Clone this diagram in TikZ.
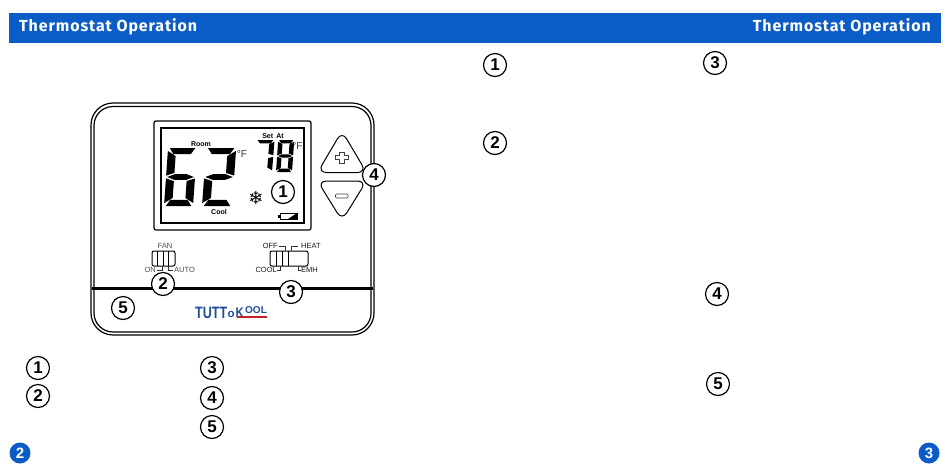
\documentclass[tikz,border=0pt]{standalone}
\usepackage{fontspec}
\usepackage{xcolor}
\setmainfont{Liberation Sans}
\newfontfamily\headfont[LetterSpace=5.6]{Fira Sans}
\newfontfamily\symbfont{DejaVu Sans}
\definecolor{barblue}{HTML}{0B5CC6}
\definecolor{logoblue}{HTML}{1C4E9C}
\definecolor{logored}{HTML}{C4202C}
\usetikzlibrary{positioning}

% segments of one display digit, 1 wide and 2 high
\newcommand{\sega}{(.06,2)--(.94,2)--(.8,1.79)--(.2,1.79)--cycle}
\newcommand{\segb}{(1,1.9)--(1,1.05)--(.72,1.14)--(.72,1.72)--cycle}
\newcommand{\segc}{(1,.95)--(1,.1)--(.72,.28)--(.72,.86)--cycle}
\newcommand{\segd}{(.06,0)--(.94,0)--(.8,.21)--(.2,.21)--cycle}
\newcommand{\sege}{(0,.95)--(0,.1)--(.28,.28)--(.28,.86)--cycle}
\newcommand{\segf}{(0,1.9)--(0,1.05)--(.28,1.14)--(.28,1.72)--cycle}
\newcommand{\segg}{(.04,1)--(.3,1.1)--(.7,1.1)--(.96,1)--(.7,.9)--(.3,.9)--cycle}

\begin{document}
\begin{tikzpicture}[
    x=1pt, y=-1pt,
    bar/.style={fill=barblue, draw=none},
    bartext/.style={text=white, font=\headfont\bfseries\fontsize{16}{16}\selectfont, inner sep=0pt},
    marker/.style={draw, circle, fill=white, line width=1.2pt, minimum size=23pt, inner sep=0pt, font=\bfseries\fontsize{17}{17}\selectfont},
    page/.style={circle, fill=barblue, text=white, minimum size=21pt, inner sep=0pt, font=\bfseries\fontsize{15}{15}\selectfont},
    casing/.style={draw, line width=1.2pt},
    lcd/.style={draw, line width=1.2pt},
    lcdtext/.style={inner sep=0pt, font=\bfseries\fontsize{7}{7}\selectfont},
    degree/.style={inner sep=0pt, text=black!80, font=\fontsize{10}{10}\selectfont},
    switchbody/.style={draw, line width=1pt, rounded corners=2pt, fill=white},
    swtext/.style={inner sep=0pt, text=black!70, font=\fontsize{7.5}{7.5}\selectfont},
    modetext/.style={inner sep=0pt, text=black!90, font=\fontsize{7.5}{7.5}\selectfont},
    swlead/.style={draw, line width=.6pt, black!80},
    logotext/.style={inner sep=0pt, anchor=west, text=logoblue}
]
\useasboundingbox (0,0) rectangle (950,475);

% header bar
\fill[bar] (9,13) rectangle (941,43);
\node[bartext, anchor=west] (titleleft) at (19,27) {Thermostat Operation};
\node[bartext, anchor=east] (titleright) at (931,27) {Thermostat Operation};

% thermostat casing
\draw[casing, rounded corners=22pt] (91,103) rectangle (374,335);
\draw[casing, rounded corners=19pt] (94,106.5) rectangle (371,332);
\draw[line width=2.4pt] (92,288.5) -- (373,288.5);

% display
\draw[lcd, rounded corners=2pt] (154,121) rectangle (311,230);
\draw[lcd, line width=1.5pt] (161,128) rectangle (304,223);

\begin{scope}[shift={(164,206)}, xscale=29, yscale=-29, xslant=-.07]
    \fill \sega \segf \segg \sege \segd \segc;
\end{scope}
\begin{scope}[shift={(202,206)}, xscale=30, yscale=-29, xslant=-.07]
    \fill \sega \segb \segg \sege \segd;
\end{scope}
\begin{scope}[shift={(254,172)}, xscale=18, yscale=-16, xslant=-.07]
    \fill \sega \segb \segc;
\end{scope}
\begin{scope}[shift={(276,172)}, xscale=16, yscale=-16, xslant=-.07]
    \fill \sega \segb \segc \segd \sege \segf \segg;
\end{scope}

\node[lcdtext] (room) at (201,144) {Room};
\node[lcdtext] (setat) at (273,136) {Set\, At};
\node[lcdtext] (cool) at (219,212) {Cool};
\node[degree] (unitroom) at (242,154) {°F};
\node[degree] (unitset) at (297.5,146) {°F};
\node[inner sep=0pt, font=\symbfont\fontsize{18}{18}\selectfont] (snow) at (256,198) {❄};

% battery
\draw[line width=.6pt] (280,213) rectangle (297,219);
\fill (278,214.5) rectangle (280,217.5);
\fill (288,219) -- (297,213) -- (297,219) -- cycle;

% up and down buttons
\draw[line width=1pt, rounded corners=9pt] (342,131) -- (366.5,172.5) -- (317.5,172.5) -- cycle;
\draw[line width=1pt, rounded corners=9pt] (342,220.5) -- (366.5,181) -- (317.5,181) -- cycle;
\draw[line width=.6pt, black!75] (339.5,152) -- (344,152) -- (344,155.5) -- (348,155.5) -- (348,159.5) -- (344,159.5) -- (344,163) -- (339.5,163) -- (339.5,159.5) -- (335.5,159.5) -- (335.5,155.5) -- (339.5,155.5) -- cycle;
\draw[line width=.6pt, black!75, rounded corners=1pt] (335.5,194) rectangle (348,198);

% fan switch
\draw[switchbody] (152,251) rectangle (175,266);
\foreach \x in {157.5,163,168.5} \draw[line width=.7pt] (\x,251) -- (\x,266);
\node[swtext] (fan) at (165,246) {FAN};
\node[swtext, anchor=east] (on) at (156,270) {ON};
\node[swtext, anchor=west] (auto) at (174,270) {AUTO};
\draw[swlead] (on.east) ++(1,0) -- ++(5,0) -- ++(0,-4);
\draw[swlead] (auto.west) ++(-1,0) -- ++(-5,0) -- ++(0,-4);

% mode switch
\draw[switchbody] (270,251) rectangle (308,266);
\foreach \x in {276.5,282,288} \draw[line width=.7pt] (\x,251) -- (\x,266);
\node[modetext, anchor=east] (off) at (278,246) {OFF};
\node[modetext, anchor=west] (heat) at (301,246) {HEAT};
\node[modetext, anchor=east] (coolmode) at (277,270) {COOL};
\node[modetext, anchor=west] (emh) at (301,270) {EMH};
\draw[swlead] (off.east) ++(1,0) -- ++(6.5,0) -- ++(0,5);
\draw[swlead] (heat.west) ++(-3,0) -- ++(-7,0) -- ++(0,5);
\draw[swlead] (coolmode.east) -- ++(3,0) -- ++(0,-4);
\draw[swlead] (emh.west) -- ++(-3,0) -- ++(0,-4);

% logo
\node[logotext, xscale=.76, font=\bfseries\fontsize{16.5}{16.5}\selectfont] (logotut) at (195,312.5) {TUTT};
\node[logotext, font=\bfseries\fontsize{11.5}{11.5}\selectfont] (logoo) at (227.5,314) {o};
\node[logotext, xscale=.8, font=\bfseries\fontsize{14}{14}\selectfont] (logok) at (235.5,313) {K};
\node[logotext, font=\bfseries\fontsize{10}{10}\selectfont] (logool) at (245,310.5) {OOL};
\fill[logored] (237,316) rectangle (267,318.3);

% callouts on the thermostat
\node[marker] (callone) at (283,192) {1};
\node[marker] (calltwo) at (163,284) {2};
\node[marker] (callthree) at (291,292) {3};
\node[marker] (callfour) at (374,175) {4};
\node[marker] (callfive) at (123,308) {5};

% numbers of the lists
\node[marker] (listone) at (38,368) {1};
\node[marker] (listtwo) at (38,396) {2};
\node[marker] (listthree) at (212,368) {3};
\node[marker] (listfour) at (212,398) {4};
\node[marker] (listfive) at (212,427) {5};
\node[marker] (textone) at (495,65) {1};
\node[marker] (texttwo) at (495,143) {2};
\node[marker] (textthree) at (715,63) {3};
\node[marker] (textfour) at (717,294) {4};
\node[marker] (textfive) at (718,384) {5};

% page numbers
\node[page] (pageleft) at (20,453) {2};
\node[page] (pageright) at (929,453) {3};
\end{tikzpicture}
\end{document}
